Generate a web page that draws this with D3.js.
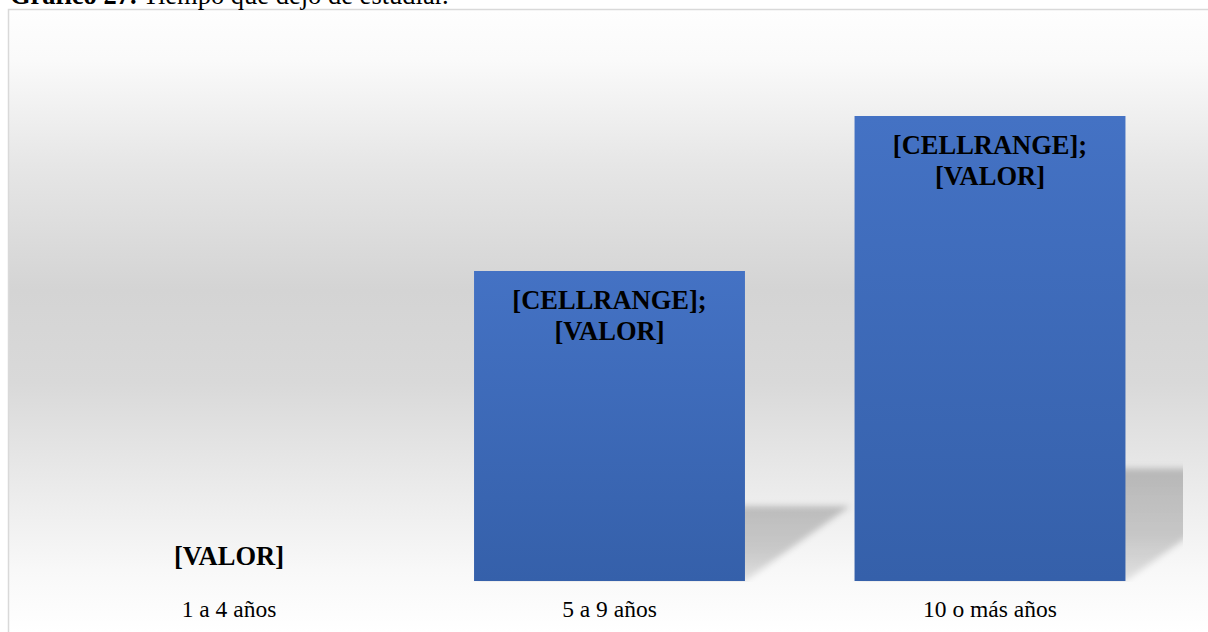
<!DOCTYPE html>
<html><head><meta charset="utf-8">
<script src="https://cdn.jsdelivr.net/npm/d3@7"></script>
<style>html,body{margin:0;padding:0;background:#fff;overflow:hidden}</style>
</head><body>
<svg id="c" width="1208" height="632"></svg>
<script>
const categories = ["1 a 4 años", "5 a 9 años", "10 o más años"];
const values = [0, 2, 3];
const labelLines = [["[VALOR]"], ["[CELLRANGE];", "[VALOR]"], ["[CELLRANGE];", "[VALOR]"]];
const titleBold = "Gráfico 27.";
const titleRest = " Tiempo que dejó de estudiar.";
const yMax = 3.5;

const svg = d3.select("#c");
const defs = svg.append("defs");
const serif = "'Liberation Serif','Times New Roman',Times,serif";

// background gradient
const bg = defs.append("linearGradient").attr("id","bg").attr("gradientUnits","userSpaceOnUse")
  .attr("x1",0).attr("x2",0).attr("y1",10).attr("y2",632);
[[0,"#fefefe"],[0.08,"#fafafa"],[0.25,"#e6e6e6"],[0.45,"#d4d4d4"],[0.6,"#d9d9d9"],[0.78,"#ececec"],[0.9,"#f8f8f8"],[1,"#ffffff"]]
  .forEach(([o,c])=>bg.append("stop").attr("offset",o).attr("stop-color",c));

const bar = defs.append("linearGradient").attr("id","bar").attr("x1",0).attr("x2",0).attr("y1",0).attr("y2",1);
bar.append("stop").attr("offset",0).attr("stop-color","#4472c4");
bar.append("stop").attr("offset",1).attr("stop-color","#3560aa");

const shg = defs.append("linearGradient").attr("id","shg").attr("x1",0).attr("x2",0).attr("y1",0).attr("y2",1);
shg.append("stop").attr("offset",0).attr("stop-color","#000").attr("stop-opacity",0.21);
shg.append("stop").attr("offset",0.6).attr("stop-color","#000").attr("stop-opacity",0.18);
shg.append("stop").attr("offset",1).attr("stop-color","#000").attr("stop-opacity",0.1);

const blur = defs.append("filter").attr("id","blur").attr("x","-20%").attr("y","-20%").attr("width","140%").attr("height","140%");
blur.append("feGaussianBlur").attr("stdDeviation",3);

defs.append("clipPath").attr("id","clip").append("rect").attr("x",9).attr("y",10).attr("width",1174).attr("height",572);

// frame
svg.append("rect").attr("x",8.5).attr("y",9.5).attr("width",1300).attr("height",700)
  .attr("fill","url(#bg)").attr("stroke","#d9d9d9").attr("stroke-width",1.5);

// title (cut off at top edge, as in the reference)
const t = svg.append("text").attr("x",10).attr("y",4).attr("font-family",serif).attr("font-size",26.5).attr("fill","#000");
t.append("tspan").attr("font-weight","bold").text(titleBold);
t.append("tspan").text(titleRest);

const x = d3.scaleBand().domain(categories).range([38.75, 1180.25]).paddingInner(0.288).paddingOuter(0.144);
const y = d3.scaleLinear().domain([0, yMax]).range([581, 38.5]);

const data = categories.map((c,i)=>({c, v: values[i], lines: labelLines[i]}));

// shadows
const sh = svg.append("g").attr("clip-path","url(#clip)");
sh.selectAll("path").data(data.filter(d=>d.v>0)).join("path")
  .attr("d", d=>{
    const x0 = x(d.c), x1 = x0 + x.bandwidth(), y0 = y(0), h = y(0)-y(d.v);
    const dy = h*0.242, dx = h*0.34;
    return `M${x0},${y0}L${x1},${y0}L${x1+dx},${y0-dy}L${x0+dx},${y0-dy}Z`;
  })
  .attr("fill","url(#shg)").attr("filter","url(#blur)");

// bars
svg.append("g").selectAll("rect").data(data.filter(d=>d.v>0)).join("rect")
  .attr("x", d=>x(d.c)).attr("width", x.bandwidth())
  .attr("y", d=>y(d.v)).attr("height", d=>y(0)-y(d.v))
  .attr("fill","url(#bar)");

// data labels
const lg = svg.append("g").attr("font-family",serif).attr("font-size",26.5).attr("font-weight","bold").attr("text-anchor","middle").attr("fill","#000");
data.forEach(d=>{
  const cx = x(d.c) + x.bandwidth()/2;
  if (d.v > 0) {
    d.lines.forEach((l,k)=>{
      lg.append("text").attr("x",cx).attr("y", y(d.v)+37.5+k*31).text(l);
    });
  } else {
    lg.append("text").attr("x",cx).attr("y", y(0)-16).text(d.lines[0]);
  }
});

// category axis labels
const ax = svg.append("g").attr("transform","translate(0,581)").call(d3.axisBottom(x).tickSize(0).tickPadding(0));
ax.select(".domain").remove();
ax.selectAll("text").attr("font-family",serif).attr("font-size",23.5).attr("fill","#000")
  .attr("dy",null).attr("y",36);
</script>
</body></html>
